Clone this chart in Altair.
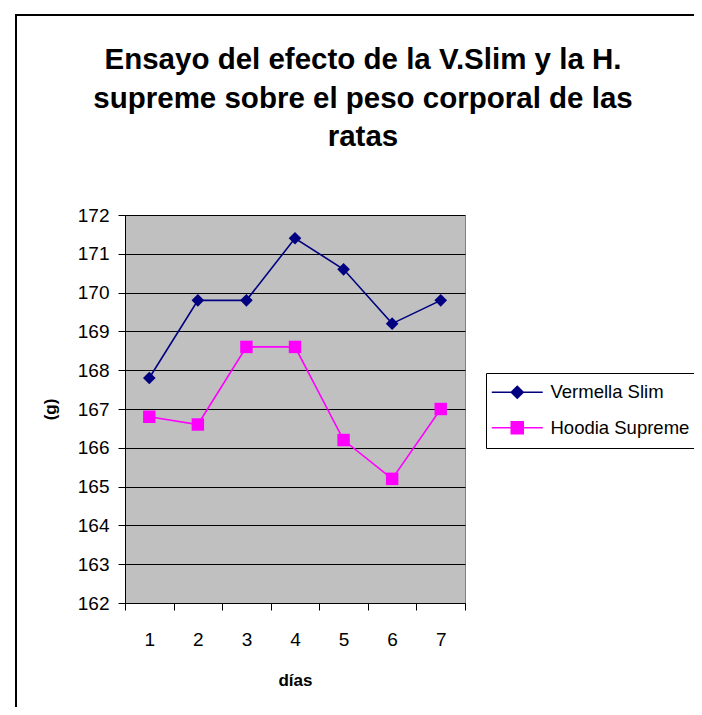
import altair as alt
import pandas as pd

days = ["1", "2", "3", "4", "5", "6", "7"]
vermella = [167.8, 169.8, 169.8, 171.4, 170.6, 169.2, 169.8]
hoodia = [166.8, 166.6, 168.6, 168.6, 166.2, 165.2, 167.0]
series_names = ["Vermella Slim", "Hoodia Supreme"]
series_colors = ["#000080", "#FF00FF"]
title_lines = ["Ensayo del efecto de la V.Slim y la H.",
               "supreme sobre el peso corporal de las",
               "ratas"]

rows = []
for d, v in zip(days, vermella):
    rows.append({"day": d, "value": v, "series": series_names[0]})
for d, h in zip(days, hoodia):
    rows.append({"day": d, "value": h, "series": series_names[1]})
df = pd.DataFrame(rows)

FONT = "Liberation Sans"

x_enc = alt.X("day:O", bandPosition=0.5,
              scale=alt.Scale(type="band", paddingInner=0, paddingOuter=0),
              axis=alt.Axis(title="días", labelAngle=0, tickBand="extent",
                            labelFontSize=19, labelFont=FONT, labelColor="black",
                            labelPadding=20, tickSize=7, tickColor="black",
                            domainColor="black", titleFontSize=17, titleFont=FONT,
                            titleFontWeight="bold", titleColor="black", titlePadding=23,
                            grid=False))
y_enc = alt.Y("value:Q",
              scale=alt.Scale(domain=[162, 172], nice=False, zero=False),
              axis=alt.Axis(title="(g)", values=list(range(162, 173)),
                            labelFontSize=19, labelFont=FONT, labelColor="black",
                            labelPadding=9, tickSize=7, tickColor="black",
                            domainColor="black", titleFontSize=17, titleFont=FONT,
                            titleFontWeight="bold", titleColor="black", titlePadding=18,
                            grid=True, gridColor="black", gridWidth=1, gridOpacity=1))

color_scale = alt.Scale(domain=series_names, range=series_colors)

base_one = pd.DataFrame({"a": [0]})

border = alt.Chart(base_one).mark_rect(
    fill="white", fillOpacity=0, stroke="black", strokeWidth=2
).encode(x=alt.value(-109), x2=alt.value(700), y=alt.value(-200), y2=alt.value(600))

title = alt.Chart(base_one).mark_text(
    text=title_lines, font=FONT, fontSize=29.5, fontWeight="bold", color="black",
    align="center", baseline="alphabetic", lineHeight=38.5
).encode(x=alt.value(238), y=alt.value(-146))

lines = alt.Chart(df).mark_line(strokeWidth=1.6).encode(
    x=x_enc, y=y_enc,
    color=alt.Color("series:N", scale=color_scale, legend=None),
    detail="series:N",
)

pts_v = alt.Chart(df).transform_filter(
    alt.datum.series == series_names[0]
).mark_point(filled=True, opacity=1, shape="diamond", size=160).encode(
    x=x_enc, y=y_enc,
    color=alt.Color("series:N", scale=color_scale, legend=None),
)
pts_h = alt.Chart(df).transform_filter(
    alt.datum.series == series_names[1]
).mark_point(filled=True, opacity=1, shape="square", size=155).encode(
    x=x_enc, y=y_enc,
    color=alt.Color("series:N", scale=color_scale, legend=None),
)

rings = [1.0, 0.75, 0.5, 0.25]
diamond_path = "M-4.25,0H4.25" + "".join(
    f"M0,-{r}L{r},0L0,{r}L-{r},0Z" for r in rings)
square_path = "M-4.25,0H4.25" + "".join(
    f"M-{r},-{r}H{r}V{r}H-{r}Z" for r in rings)

leg = alt.Legend(title=None, orient="none", legendX=361, legendY=158,
                 strokeColor="black", fillColor="white", padding=10,
                 labelFontSize=18.5, labelFont=FONT, labelColor="black",
                 symbolOffset=12, labelOffset=24, rowPadding=16.5,
                 symbolSize=144, symbolStrokeWidth=1.5, cornerRadius=0)

legend_layer = alt.Chart(df).transform_filter("false").mark_point(
    filled=False, opacity=1, size=144, strokeWidth=1.5
).encode(
    x=x_enc, y=y_enc,
    shape=alt.Shape("series:N", scale=alt.Scale(domain=series_names, range=[diamond_path, square_path]),
                    legend=leg),
    stroke=alt.Stroke("series:N", scale=alt.Scale(domain=series_names, range=series_colors), legend=leg),
)

chart = alt.layer(border, title, lines, pts_v, pts_h, legend_layer).resolve_scale(
    shape="independent", stroke="independent"
).properties(
    width=340, height=388,
    padding={"left": 117, "top": 207, "right": 229, "bottom": 104},
    autosize=alt.AutoSizeParams(type="none"),
).configure(background="white").configure_view(
    fill="#C0C0C0", stroke="#808080", strokeWidth=1
)

chart.save("out.html", embed_options={"renderer": "svg", "actions": False})
